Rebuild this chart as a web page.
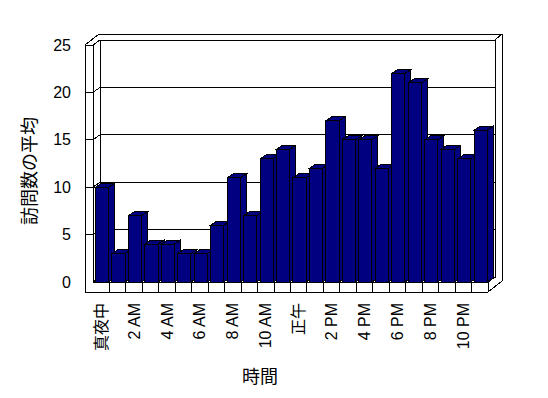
<!DOCTYPE html>
<html>
<head>
<meta charset="utf-8">
<script src="https://cdn.jsdelivr.net/npm/d3@7"></script>
<style>
  body { margin: 0; background: #fff; }
  text { font-family: 'Liberation Sans', 'Noto Sans CJK JP', sans-serif; fill: #000; }
</style>
</head>
<body>
<div id="chart"></div>
<script>
'use strict'

// one bar per hour, ticks shown every other hour
var hours = [
  '真夜中', '1 AM', '2 AM', '3 AM', '4 AM', '5 AM', '6 AM', '7 AM',
  '8 AM', '9 AM', '10 AM', '11 AM', '正午', '1 PM', '2 PM', '3 PM',
  '4 PM', '5 PM', '6 PM', '7 PM', '8 PM', '9 PM', '10 PM', '11 PM'
]
var visits = [10, 3, 7, 4, 4, 3, 3, 6, 11, 7, 13, 14, 11, 12, 17, 15, 15, 12, 22, 21, 15, 14, 13, 16]
var hourTicks = ['真夜中', '2 AM', '4 AM', '6 AM', '8 AM', '10 AM', '正午', '2 PM', '4 PM', '6 PM', '8 PM', '10 PM']
var valueTicks = [0, 5, 10, 15, 20, 25]
var yTitle = '訪問数の平均'
var xTitle = '時間'

var W = 548
var H = 398
var barColor = '#000080'

var svg = d3
  .select('#chart')
  .append('svg')
  .attr('width', W)
  .attr('height', H)
  .attr('shape-rendering', 'crispEdges')

var x = d3
  .scaleBand()
  .domain(hours)
  .range([93, 488])

var y = d3
  .scaleLinear()
  .domain([0, 25])
  .range([282, 45])

var x0 = x.range()[0]
var x1 = x.range()[1]
var yTop = y(25)
var yBot = y(0)
var dx = 7, dy = -5 // floor / side wall depth
var ox = 14, oy = -11 // outer plate depth
var wallT = 8 // wall thickness seen from front
var floorT = 10

function line(pts) {
  return 'M' + pts.map(function(p) { return p[0] + ',' + p[1] }).join('L')
}

var frame = svg
  .append('g')
  .attr('fill', 'none')
  .attr('stroke', '#000')
  .attr('stroke-width', 1)

// outer silhouette
frame
  .append('path')
  .attr('fill', '#fff')
  .attr('d', line([
    [x0 - wallT, yTop],
    [x0 - wallT + ox, yTop + oy],
    [x1 + ox, yTop + oy],
    [x1 + ox, yBot + floorT + oy],
    [x1, yBot + floorT],
    [x0 - wallT, yBot + floorT]
  ]) + 'Z')

// back wall face
frame
  .append('rect')
  .attr('x', x0 + dx)
  .attr('y', yTop + dy)
  .attr('width', x1 - x0)
  .attr('height', yBot - yTop)

// gridlines: tick on wall front, across side wall, along back wall
valueTicks.slice(1, -1).forEach(function(v) {
  frame
    .append('path')
    .attr('d', line([
      [x0 - wallT, y(v)],
      [x0, y(v)],
      [x0 + dx, y(v) + dy],
      [x1 + dx, y(v) + dy]
    ]))
})

// wall and floor edges
frame.append('path').attr('d', line([[x0, yTop], [x0 + dx, yTop + dy]]))
frame.append('path').attr('d', line([[x0, yBot], [x0 + dx, yBot + dy]]))
frame.append('path').attr('d', line([[x1, yBot], [x1 + dx, yBot + dy]]))
frame.append('path').attr('d', line([[x1 + dx, yTop + dy], [x1 + ox, yTop + oy]]))
frame.append('path').attr('d', line([[x0 - wallT, yTop], [x0, yTop], [x0, yBot]]))
frame.append('path').attr('d', line([[x0, yBot], [x1, yBot], [x1, yBot + floorT]]))

// category dividers on the floor front
hours.slice(1).forEach(function(h) {
  frame
    .append('path')
    .attr('d', line([[x(h), yBot], [x(h), yBot + floorT]]))
})

// bars
var bw = x.bandwidth() * 0.8
var bOff = x.bandwidth() * 0.15
var bdx = 6, bdy = -4

var bar = svg
  .selectAll('g.bar')
  .data(visits)
  .enter()
  .append('g')
  .attr('class', 'bar')
  .attr('fill', barColor)
  .attr('stroke', '#000')

bar
  .append('path')
  .attr('d', function(d, i) {
    var l = x(hours[i]) + bOff, r = l + bw, t = y(d)
    return line([[r, t], [r + bdx, t + bdy], [r + bdx, yBot + bdy], [r, yBot]]) + 'Z'
  })

bar
  .append('path')
  .attr('d', function(d, i) {
    var l = x(hours[i]) + bOff, r = l + bw, t = y(d)
    return line([[l, t], [l + bdx, t + bdy], [r + bdx, t + bdy], [r, t]]) + 'Z'
  })

bar
  .append('rect')
  .attr('x', function(d, i) { return x(hours[i]) + bOff })
  .attr('y', function(d) { return y(d) })
  .attr('width', bw)
  .attr('height', function(d) { return yBot - y(d) })

// value labels
svg
  .selectAll('text.ytick')
  .data(valueTicks)
  .enter()
  .append('text')
  .attr('class', 'ytick')
  .attr('x', 71)
  .attr('y', function(d) { return y(d) })
  .attr('text-anchor', 'end')
  .attr('dominant-baseline', 'central')
  .attr('font-size', '16px')
  .text(function(d) { return d })

// hour labels, rotated
svg
  .selectAll('text.xtick')
  .data(hourTicks)
  .enter()
  .append('text')
  .attr('class', 'xtick')
  .attr('transform', function(d) {
    return 'translate(' + (x(d) + x.bandwidth() / 2) + ',303) rotate(-90)'
  })
  .attr('text-anchor', 'end')
  .attr('dominant-baseline', 'central')
  .attr('font-size', '16px')
  .text(function(d) { return d })

svg
  .append('text')
  .attr('transform', 'translate(30,171) rotate(-90)')
  .attr('text-anchor', 'middle')
  .attr('dominant-baseline', 'central')
  .attr('font-size', '18px')
  .text(yTitle)

svg
  .append('text')
  .attr('x', 260)
  .attr('y', 377)
  .attr('text-anchor', 'middle')
  .attr('dominant-baseline', 'central')
  .attr('font-size', '18px')
  .text(xTitle)
</script>
</body>
</html>
